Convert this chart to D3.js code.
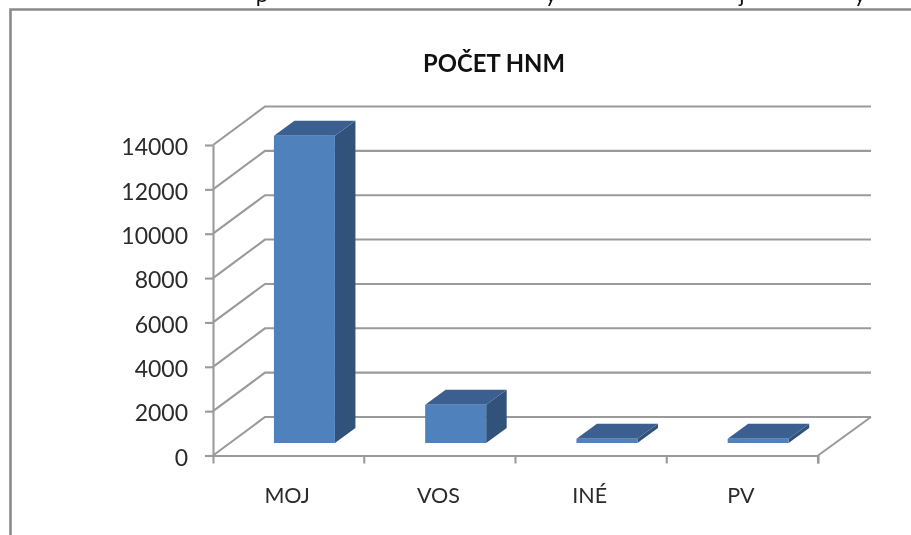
<!DOCTYPE html>
<html><head><meta charset="utf-8">
<script src="https://cdnjs.cloudflare.com/ajax/libs/d3/7.8.5/d3.min.js"></script>
<style>
html,body{margin:0;padding:0;background:#fff;overflow:hidden}
svg{display:block;filter:blur(0.5px)}
text{font-family:Lato,sans-serif;fill:#262626}
</style></head><body>
<svg id="c" width="911" height="535"></svg>
<script>
const chartTitle = "POČET HNM";
const categories = ["MOJ", "VOS", "INÉ", "PV"];
const values = [13850, 1720, 190, 190];
const yTicks = [0, 2000, 4000, 6000, 8000, 10000, 12000, 14000];
const clippedLetters = ["p", "y", "j", "y"];
const clippedLetterX = [262, 551, 742, 860];

const svg = d3.select("#c");
const x = d3.scaleBand().domain(categories).range([213, 818]);
const y = d3.scaleLinear().domain([0, 14000]).range([455.5, 145]);
const wallDx = 52, wallDy = -38.5;
const barW = 61, barShiftX = 15.8, barShiftY = -12.5, depthDx = 20.5, depthDy = -15;
const grid = "#9a9a9a";

// clipped line of page text above the frame
svg.append("g").selectAll("text").data(clippedLetters).join("text")
  .attr("x", (d, i) => clippedLetterX[i]).attr("y", 2)
  .attr("text-anchor", "middle").attr("font-size", 22)
  .style("fill", "#111").text(d => d);

// frame
svg.append("path").attr("d", "M10.5,535V9.5H911").attr("fill", "none")
  .attr("stroke", "#8a8a8a").attr("stroke-width", 2.6);

// back-wall gridlines and side-wall diagonals
const gridG = svg.append("g").attr("fill", "none").attr("stroke", grid).attr("stroke-width", 2.1);
gridG.selectAll("path.g").data(yTicks).join("path").attr("class", "g")
  .attr("d", d => `M${x.range()[0]},${y(d)}L${x.range()[0] + wallDx},${y(d) + wallDy}H${x.range()[1] + wallDx + 1}`);
gridG.append("path")
  .attr("d", `M${x.range()[1]},${y(0)}L${x.range()[1] + wallDx + 1},${y(0) + wallDy}`);

// axes
const yAxis = d3.axisLeft(y).tickValues(yTicks).tickFormat(d3.format("d")).tickSize(8).tickSizeOuter(0).tickPadding(17);
const yG = svg.append("g").attr("transform", `translate(${x.range()[0]},0)`).call(yAxis);
yG.selectAll("text").attr("font-size", 23).attr("dy", null).attr("y", 9.7);

const xAxis = d3.axisBottom(x).tickSize(0).tickSizeOuter(8);
const xG = svg.append("g").attr("transform", `translate(0,${y(0)})`).call(xAxis);
xG.selectAll("text").attr("font-size", 21.5).attr("dy", null).attr("y", 47.2).attr("x", -1.5);
// category separators sit at band edges
xG.selectAll("line.sep").data(categories).join("line").attr("class", "sep")
  .attr("x1", d => x(d) + x.bandwidth()).attr("x2", d => x(d) + x.bandwidth())
  .attr("y1", 0).attr("y2", 8);
svg.selectAll(".domain, .tick line, .sep").attr("stroke", grid).attr("stroke-width", 2.1);
svg.selectAll(".tick text").style("fill", "#2b2b2b");

// bars
const bars = svg.append("g").selectAll("g").data(categories.map((c, i) => ({c, v: values[i]}))).join("g");
const fx = d => x(d.c) + (x.bandwidth() - barW) / 2 + barShiftX;
const by = y(0) + barShiftY;
const ty = d => by - (y(0) - y(d.v));
bars.append("path").attr("fill", "#31527b")
  .attr("d", d => `M${fx(d) + barW},${by}v${-(by - ty(d))}l${depthDx},${depthDy}v${by - ty(d)}z`);
bars.append("path").attr("fill", "#3b6090")
  .attr("d", d => `M${fx(d)},${ty(d)}h${barW}l${depthDx},${depthDy}h${-barW}z`);
bars.append("rect").attr("fill", "#4f81bd")
  .attr("x", fx).attr("y", ty).attr("width", barW).attr("height", d => by - ty(d));

// title
svg.append("text").attr("x", 494).attr("y", 71.5).attr("text-anchor", "middle")
  .attr("font-size", 23.8).attr("font-weight", 700).style("fill", "#111").text(chartTitle);
</script>
</body></html>
